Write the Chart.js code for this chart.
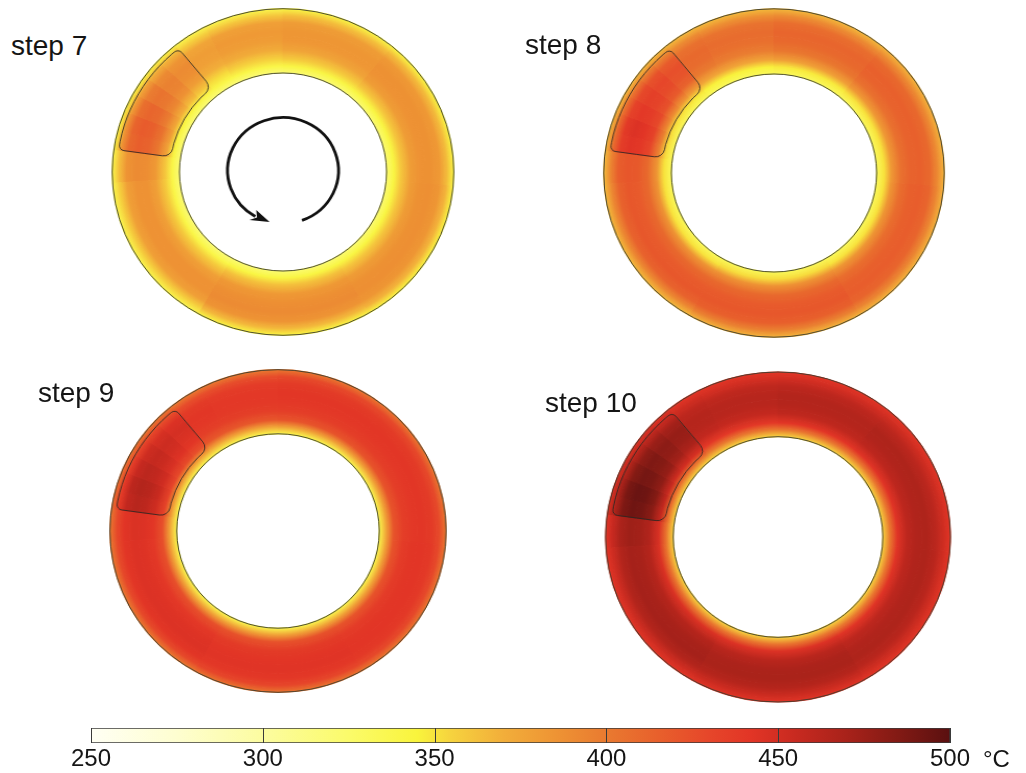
<!DOCTYPE html>
<html>
<head>
<meta charset="utf-8">
<script src="https://cdn.jsdelivr.net/npm/chart.js@4.4.1/dist/chart.umd.min.js"></script>
<style>
html,body{margin:0;padding:0;background:#fff;width:1026px;height:773px;overflow:hidden;position:relative;font-family:"Liberation Sans",Arial,sans-serif;}
canvas{position:absolute;}
.lbl{position:absolute;font-size:28px;line-height:28px;color:#151515;white-space:nowrap;}
.unit{position:absolute;font-size:24px;line-height:24px;color:#151515;white-space:nowrap;}
</style>
</head>
<body>
<script>
// ---------------- DATA ----------------
const stepLabels = ['step 7', 'step 8', 'step 9', 'step 10'];

// angular sectors of each ring (degrees, clockwise, first one starts at sectorStart from 12 o'clock)
const sectorStart = 266;
const sectorSpans = [12, 7, 7, 7, 7, 7, 8, 12, 27, 40, 55, 55, 60, 56];
// radial layers of each ring, inner -> outer (relative thickness)
const layerWeights = [1, 1, 2, 2, 2, 2, 2, 1, 1];
// heated block: sectors 1..6, layers 2..7
const blockSectors = [1, 6];
const blockLayers = [2, 7];

// temperatures (°C): one row per sector, values per layer inner -> outer
const step7Temps = [
  [320, 340, 360, 382, 389, 390, 385, 364, 339],
  [320, 342, 376, 402, 413, 416, 410, 385, 342],
  [320, 342, 378, 404, 415, 418, 412, 386, 342],
  [320, 342, 374, 398, 409, 412, 406, 382, 342],
  [320, 342, 370, 392, 401, 404, 398, 378, 342],
  [320, 341, 365, 386, 394, 396, 390, 373, 342],
  [320, 340, 361, 380, 388, 390, 385, 369, 341],
  [320, 340, 352, 370, 378, 380, 375, 358, 338],
  [320, 340, 355, 372, 380, 382, 378, 360, 338],
  [322, 341, 358, 376, 383, 384, 380, 363, 341],
  [322, 342, 360, 380, 386, 387, 382, 365, 342],
  [322, 342, 360, 380, 387, 388, 384, 368, 343],
  [322, 342, 362, 382, 388, 390, 385, 366, 342],
  [320, 340, 358, 378, 386, 386, 378, 358, 338]
];
const step8Temps = [
  [332, 350, 384, 410, 419, 421, 416, 395, 365],
  [332, 352, 394, 430, 440, 443, 436, 409, 365],
  [332, 352, 396, 432, 442, 445, 438, 410, 365],
  [332, 351, 392, 428, 437, 440, 433, 407, 365],
  [332, 350, 389, 423, 432, 435, 428, 404, 365],
  [332, 349, 385, 418, 427, 430, 423, 400, 365],
  [332, 348, 381, 413, 422, 425, 418, 396, 365],
  [332, 346, 375, 400, 408, 410, 405, 390, 365],
  [332, 346, 375, 398, 406, 408, 404, 388, 365],
  [332, 348, 378, 402, 410, 412, 407, 390, 366],
  [332, 350, 382, 405, 413, 415, 410, 392, 368],
  [332, 350, 384, 407, 415, 417, 412, 394, 368],
  [333, 352, 386, 410, 418, 420, 415, 396, 368],
  [332, 350, 385, 410, 418, 420, 413, 392, 365]
];
const step9Temps = [
  [338, 378, 424, 441, 445, 446, 442, 429, 401],
  [338, 382, 432, 452, 460, 463, 458, 439, 405],
  [338, 382, 433, 454, 462, 465, 460, 440, 405],
  [338, 381, 431, 451, 458, 461, 456, 437, 404],
  [338, 380, 429, 447, 454, 457, 452, 434, 403],
  [338, 379, 427, 444, 450, 453, 448, 432, 402],
  [338, 378, 425, 441, 446, 449, 445, 429, 402],
  [338, 375, 420, 435, 440, 441, 438, 426, 400],
  [338, 375, 420, 435, 439, 440, 437, 426, 400],
  [338, 377, 422, 436, 440, 441, 438, 428, 402],
  [338, 378, 422, 436, 440, 441, 438, 428, 402],
  [338, 378, 422, 437, 441, 442, 439, 429, 402],
  [338, 378, 423, 438, 442, 443, 440, 430, 403],
  [338, 378, 424, 440, 444, 445, 441, 428, 400]
];
const step10Temps = [
  [355, 404, 447, 466, 472, 474, 468, 456, 443],
  [355, 408, 457, 482, 490, 492, 486, 469, 448],
  [355, 408, 458, 484, 492, 494, 488, 470, 448],
  [355, 407, 455, 480, 488, 490, 484, 467, 447],
  [355, 406, 452, 477, 484, 486, 480, 464, 446],
  [355, 405, 450, 472, 479, 481, 475, 461, 445],
  [355, 404, 448, 468, 475, 477, 471, 458, 444],
  [355, 400, 440, 458, 463, 464, 460, 452, 442],
  [355, 400, 440, 457, 462, 463, 459, 450, 442],
  [355, 401, 442, 459, 464, 465, 460, 451, 442],
  [355, 402, 443, 460, 466, 467, 461, 452, 442],
  [355, 402, 443, 460, 466, 467, 462, 452, 442],
  [355, 403, 445, 462, 468, 469, 464, 454, 443],
  [355, 403, 446, 464, 470, 471, 465, 453, 442]
];

// colour bar
const cbarTicks = [250, 300, 350, 400, 450, 500];
const cbarUnit = '°C';
const cmapTemps  = [250, 275, 300, 325, 345, 355, 370, 385, 400, 415, 430, 442, 455, 470, 485, 500];
const cmapColors = ['#fffff4','#fefed0','#fcfca0','#fbfb6a','#f9f43c','#f6d23e','#f2ae3a','#ee9434',
                    '#e97a30','#e8602c','#e6462a','#e23526','#c82a20','#a8221a','#821a14','#5a1010'];

// ---------------- LAYOUT ----------------
const panels = [
  {label: stepLabels[0], temps: step7Temps,  cx: 282.5, cy: 171.7, r: 163.3, rIn: 99,   sx: 1.046, lx: 11,  lb: 56,    arrow: true},
  {label: stepLabels[1], temps: step8Temps,  cx: 773.7, cy: 172.5, r: 164.2, rIn: 99,   sx: 1.037, lx: 525, lb: 55},
  {label: stepLabels[2], temps: step9Temps,  cx: 278,   cy: 531.3, r: 161.3, rIn: 97.2, sx: 1.042, lx: 38,  lb: 403},
  {label: stepLabels[3], temps: step10Temps, cx: 777.5, cy: 536.7, r: 165,   rIn: 100.3,sx: 1.045, lx: 545, lb: 412.5}
];
const CAN = 360;

function hexToRgb(h){ return [parseInt(h.substr(1,2),16), parseInt(h.substr(3,2),16), parseInt(h.substr(5,2),16)]; }
const cmapRgb = cmapColors.map(hexToRgb);
function tempColor(t){
  if (t <= cmapTemps[0]) return 'rgb(' + cmapRgb[0].join(',') + ')';
  const n = cmapTemps.length;
  if (t >= cmapTemps[n-1]) return 'rgb(' + cmapRgb[n-1].join(',') + ')';
  let i = 0; while (t > cmapTemps[i+1]) i++;
  const f = (t - cmapTemps[i]) / (cmapTemps[i+1] - cmapTemps[i]);
  const a = cmapRgb[i], b = cmapRgb[i+1];
  return 'rgb(' + [0,1,2].map(k => Math.round(a[k] + (b[k]-a[k])*f)).join(',') + ')';
}

const nL = layerWeights.length;
function layerMeta(chart, L){ return chart.getDatasetMeta(nL - 1 - L); } // dataset 0 is outermost

function roundedBlock(ctx, x, y, a0, a1, ri, ro){
  const pts = [], rad = [];
  const no = 14, ni = 6;
  for (let i = 0; i <= no; i++){ const a = a0 + (a1-a0)*i/no; pts.push([x+ro*Math.cos(a), y+ro*Math.sin(a)]); rad.push(i===0||i===no ? 5 : 0); }
  for (let i = ni; i >= 0; i--){ const a = a0 + (a1-a0)*i/ni; pts.push([x+ri*Math.cos(a), y+ri*Math.sin(a)]); rad.push(i===0||i===ni ? 9 : 0); }
  const N = pts.length;
  ctx.beginPath();
  ctx.moveTo((pts[N-1][0]+pts[0][0])/2, (pts[N-1][1]+pts[0][1])/2);
  for (let i = 0; i < N; i++){
    const p = pts[i], q = pts[(i+1)%N];
    if (rad[i] > 0) ctx.arcTo(p[0], p[1], q[0], q[1], rad[i]); else ctx.lineTo(p[0], p[1]);
  }
  ctx.closePath();
  ctx.stroke();
}

panels.forEach((p, pi) => {
  const cv = document.createElement('canvas');
  cv.width = CAN; cv.height = CAN;
  cv.style.width = CAN + 'px'; cv.style.height = CAN + 'px';
  cv.style.left = (p.cx - CAN/2) + 'px';
  cv.style.top = (p.cy - CAN/2) + 'px';
  cv.style.transform = 'scaleX(' + p.sx + ')';
  cv.style.transformOrigin = '50% 50%';
  document.body.appendChild(cv);

  const datasets = [];
  for (let d = 0; d < nL; d++){
    const L = nL - 1 - d;
    datasets.push({
      label: 'layer ' + L,
      data: sectorSpans.slice(),
      weight: layerWeights[L],
      backgroundColor: (ctx) => tempColor(p.temps[ctx.dataIndex][L]),
      borderWidth: 0
    });
  }

  const painter = {
    id: 'ringPainter' + pi,
    beforeDatasetsDraw(chart){
      const ctx = chart.ctx;
      for (let j = 0; j < sectorSpans.length; j++){
        const inEl = layerMeta(chart, 0).data[j], outEl = layerMeta(chart, nL-1).data[j];
        const x = inEl.x, y = inEl.y, r0 = inEl.innerRadius, r1 = outEl.outerRadius;
        const g = ctx.createRadialGradient(x, y, r0, x, y, r1);
        for (let L = 0; L < nL; L++){
          const el = layerMeta(chart, L).data[j];
          const rr = L === 0 ? el.innerRadius : (L === nL-1 ? el.outerRadius : (el.innerRadius + el.outerRadius)/2);
          g.addColorStop(Math.min(1, Math.max(0, (rr - r0)/(r1 - r0))), tempColor(p.temps[j][L]));
        }
        for (let L = 0; L < nL; L++){
          const el = layerMeta(chart, L).data[j];
          el.options = Object.assign({}, el.options, {backgroundColor: g, borderColor: g, borderWidth: 1.2});
        }
      }
    },
    afterDatasetsDraw(chart){
      const ctx = chart.ctx;
      const outer = layerMeta(chart, nL-1).data[0], inner = layerMeta(chart, 0).data[0];
      const x = outer.x, y = outer.y;
      ctx.save();
      ctx.strokeStyle = 'rgba(60,60,45,0.9)';
      ctx.lineWidth = 1;
      ctx.beginPath(); ctx.arc(x, y, outer.outerRadius, 0, Math.PI*2); ctx.stroke();
      ctx.beginPath(); ctx.arc(x, y, inner.innerRadius, 0, Math.PI*2); ctx.stroke();
      // block outline
      const lo = layerMeta(chart, blockLayers[0]).data[blockSectors[0]];
      const hi = layerMeta(chart, blockLayers[1]).data[blockSectors[1]];
      ctx.strokeStyle = 'rgba(45,40,35,0.85)';
      ctx.lineWidth = 1;
      roundedBlock(ctx, x, y, lo.startAngle, hi.endAngle, lo.innerRadius, hi.outerRadius);
      // rotation arrow
      if (p.arrow){
        const deg = Math.PI/180, ar = 53, ay = y - 1.4;
        ctx.strokeStyle = '#111'; ctx.fillStyle = '#111';
        ctx.lineWidth = 2.8; ctx.lineCap = 'butt';
        ctx.beginPath(); ctx.arc(x, ay, ar, 70*deg, 120*deg, true); ctx.stroke();
        const tip = 104*deg, base = 123*deg;
        ctx.beginPath();
        ctx.moveTo(x + ar*Math.cos(tip), ay + ar*Math.sin(tip));
        ctx.lineTo(x + (ar+6)*Math.cos(base), ay + (ar+6)*Math.sin(base));
        ctx.lineTo(x + ar*Math.cos(118*deg), ay + ar*Math.sin(118*deg));
        ctx.lineTo(x + (ar-6)*Math.cos(base), ay + (ar-6)*Math.sin(base));
        ctx.closePath(); ctx.fill();
      }
      ctx.restore();
    }
  };

  new Chart(cv, {
    type: 'doughnut',
    data: {labels: sectorSpans.map((s, i) => 'sector ' + i), datasets},
    options: {
      responsive: false,
      animation: false,
      events: [],
      rotation: sectorStart,
      circumference: 360,
      radius: p.r,
      cutout: (p.rIn / p.r * 100) + '%',
      layout: {padding: 0},
      plugins: {legend: {display: false}, tooltip: {enabled: false}}
    },
    plugins: [painter]
  });

  const lab = document.createElement('div');
  lab.className = 'lbl';
  lab.textContent = p.label;
  lab.style.left = p.lx + 'px';
  lab.style.top = (p.lb - 0.8465*28) + 'px';
  document.body.appendChild(lab);
});

// ---------------- COLOUR BAR ----------------
const cb = document.createElement('canvas');
cb.width = 1026; cb.height = 58;
cb.style.width = '1026px'; cb.style.height = '58px';
cb.style.left = '0px'; cb.style.top = '715px';
document.body.appendChild(cb);

const cbarPainter = {
  id: 'cbarPainter',
  beforeDatasetsDraw(chart){
    const xs = chart.scales.x, ctx = chart.ctx;
    const tMin = cmapTemps[0], tMax = cmapTemps[cmapTemps.length-1];
    const g = ctx.createLinearGradient(xs.getPixelForValue(tMin), 0, xs.getPixelForValue(tMax), 0);
    cmapTemps.forEach((t, i) => g.addColorStop((t - tMin)/(tMax - tMin), cmapColors[i]));
    chart.getDatasetMeta(0).data.forEach(el => {
      el.options = Object.assign({}, el.options, {backgroundColor: g});
    });
  },
  afterDatasetsDraw(chart){
    const xs = chart.scales.x, ctx = chart.ctx, a = chart.chartArea;
    ctx.save();
    ctx.strokeStyle = '#3a3a3a';
    ctx.lineWidth = 1;
    cbarTicks.forEach(v => {
      const px = Math.round(xs.getPixelForValue(v)) + 0.5;
      ctx.beginPath(); ctx.moveTo(px, a.top); ctx.lineTo(px, a.bottom); ctx.stroke();
    });
    ctx.restore();
  }
};

new Chart(cb, {
  type: 'bar',
  data: {
    labels: ['T'],
    datasets: [{
      data: [[cbarTicks[0], cbarTicks[cbarTicks.length-1]]],
      backgroundColor: '#f7d53e',
      borderColor: '#3a3a3a',
      borderWidth: 1,
      borderSkipped: false,
      barPercentage: 1,
      categoryPercentage: 1
    }]
  },
  options: {
    indexAxis: 'y',
    responsive: false,
    animation: false,
    events: [],
    layout: {padding: {left: 91, right: 76, top: 13, bottom: 0}},
    plugins: {legend: {display: false}, tooltip: {enabled: false}},
    scales: {
      y: {display: false},
      x: {
        type: 'linear',
        min: cbarTicks[0],
        max: cbarTicks[cbarTicks.length-1],
        position: 'bottom',
        afterBuildTicks: (s) => { s.ticks = cbarTicks.map(v => ({value: v})); },
        afterFit: (s) => { s.height = 30; },
        grid: {display: false, drawTicks: false},
        border: {display: false},
        ticks: {font: {size: 24, family: 'Liberation Sans'}, color: '#151515', padding: 2, maxRotation: 0, autoSkip: false}
      }
    }
  },
  plugins: [cbarPainter]
});

const unit = document.createElement('div');
unit.className = 'unit';
unit.textContent = cbarUnit;
unit.style.left = '983px';
unit.style.top = (767 - 0.8465*24) + 'px';
document.body.appendChild(unit);
</script>
</body>
</html>
